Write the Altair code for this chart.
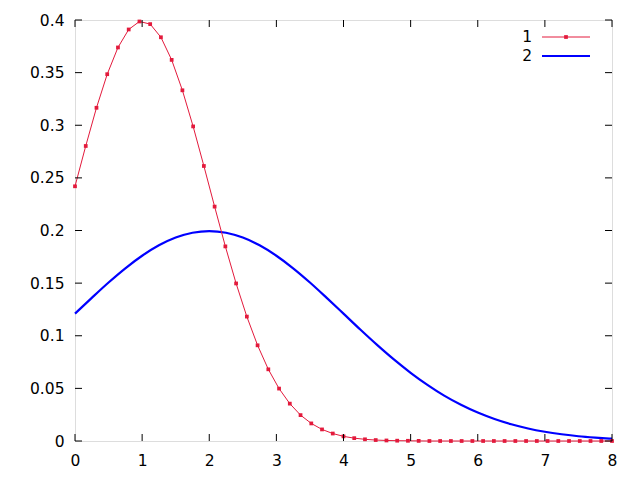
import altair as alt
import pandas as pd

# Series 1: sampled points (step 0.16)
x1 = [round(i * 0.16, 2) for i in range(51)]
y1 = [0.2420, 0.2803, 0.3166, 0.3485, 0.3739, 0.3910, 0.3986, 0.3961, 0.3836, 0.3621,
      0.3332, 0.2989, 0.2613, 0.2227, 0.1849, 0.1497, 0.1182, 0.0909, 0.0681, 0.0498,
      0.0355, 0.0246, 0.0167, 0.0110, 0.0071, 0.0044, 0.0027, 0.0016, 0.0009, 0.0005,
      0.0003, 0.0002, 0.0001, 0.0000, 0.0000, 0.0000, 0.0000, 0.0000, 0.0000, 0.0000,
      0.0000, 0.0000, 0.0000, 0.0000, 0.0000, 0.0000, 0.0000, 0.0000, 0.0000, 0.0000,
      0.0000]

# Series 2: smooth curve (step 0.25)
x2 = [i * 0.25 for i in range(33)]
y2 = [0.1210, 0.1360, 0.1506, 0.1641, 0.1760, 0.1859, 0.1933, 0.1979, 0.1995, 0.1979,
      0.1933, 0.1859, 0.1760, 0.1641, 0.1506, 0.1360, 0.1210, 0.1059, 0.0913, 0.0775,
      0.0648, 0.0533, 0.0431, 0.0344, 0.0270, 0.0209, 0.0159, 0.0119, 0.0088, 0.0064,
      0.0045, 0.0032, 0.0022]

x_ticks = [0, 1, 2, 3, 4, 5, 6, 7, 8]
y_ticks = [0, 0.05, 0.1, 0.15, 0.2, 0.25, 0.3, 0.35, 0.4]
legend_labels = ["1", "2"]

RED = "#e31a3c"
BLUE = "#0000ff"
W, H = 537, 421
TL = 7
FS = 15.5

d1 = pd.DataFrame({"x": x1, "y": y1})
d2 = pd.DataFrame({"x": x2, "y": y2})
dxt = pd.DataFrame({"v": x_ticks})
dyt = pd.DataFrame({"v": y_ticks})

xs = alt.Scale(domain=[0, 8], nice=False, zero=False)
ys = alt.Scale(domain=[0, 0.4], nice=False, zero=False)

xaxis = alt.Axis(values=x_ticks, ticks=False, domain=False, grid=False, labelFont="DejaVu Sans",
                 labelFontSize=FS, labelColor="black", labelPadding=12, title=None, labelFlush=False,
                 format="d")
yaxis = alt.Axis(values=y_ticks, ticks=False, domain=False, grid=False, labelFont="DejaVu Sans",
                 labelFontSize=FS, labelColor="black", labelPadding=11, title=None, labelFlush=False,
                 format="~g")

line2 = alt.Chart(d2).mark_line(color=BLUE, strokeWidth=2.2, interpolate="monotone").encode(
    x=alt.X("x:Q", scale=xs, axis=xaxis),
    y=alt.Y("y:Q", scale=ys, axis=yaxis),
)
line1 = alt.Chart(d1).mark_line(color=RED, strokeWidth=1).encode(
    x=alt.X("x:Q", scale=xs), y=alt.Y("y:Q", scale=ys))
pts1 = alt.Chart(d1).mark_point(color=RED, shape="square", filled=True, size=14, opacity=1).encode(
    x=alt.X("x:Q", scale=xs), y=alt.Y("y:Q", scale=ys))

tb = alt.Chart(dxt).mark_rule(color="black", strokeWidth=1).encode(
    x=alt.X("v:Q", scale=xs), y=alt.value(H), y2=alt.value(H - TL))
tt = alt.Chart(dxt).mark_rule(color="black", strokeWidth=1).encode(
    x=alt.X("v:Q", scale=xs), y=alt.value(0), y2=alt.value(TL))
tlft = alt.Chart(dyt).mark_rule(color="black", strokeWidth=1).encode(
    y=alt.Y("v:Q", scale=ys), x=alt.value(0), x2=alt.value(TL))
trt = alt.Chart(dyt).mark_rule(color="black", strokeWidth=1).encode(
    y=alt.Y("v:Q", scale=ys), x=alt.value(W), x2=alt.value(W - TL))

# Legend
leg = pd.DataFrame({"label": legend_labels})
lt1 = alt.Chart(leg.iloc[[0]]).mark_text(align="right", baseline="middle", font="DejaVu Sans",
                                          fontSize=FS, color="black").encode(
    text="label:N", x=alt.value(457), y=alt.value(17))
lt2 = alt.Chart(leg.iloc[[1]]).mark_text(align="right", baseline="middle", font="DejaVu Sans",
                                          fontSize=FS, color="black").encode(
    text="label:N", x=alt.value(457), y=alt.value(36))
ll1 = alt.Chart(leg.iloc[[0]]).mark_rule(color=RED, strokeWidth=1).encode(
    x=alt.value(467), x2=alt.value(515), y=alt.value(17))
lp1 = alt.Chart(leg.iloc[[0]]).mark_point(color=RED, shape="square", filled=True, size=14, opacity=1).encode(
    x=alt.value(491), y=alt.value(17))
ll2 = alt.Chart(leg.iloc[[1]]).mark_rule(color=BLUE, strokeWidth=2.2).encode(
    x=alt.value(467), x2=alt.value(515), y=alt.value(36))

chart = alt.layer(line2, line1, pts1, tb, tt, tlft, trt, lt1, lt2, ll1, lp1, ll2).properties(
    width=W, height=H,
    autosize=alt.AutoSizeParams(type="none"),
    padding={"left": 67, "top": 12, "right": 20, "bottom": 30},
).configure_view(stroke="black", strokeWidth=1).configure(background="white")

chart.save("out.html", embed_options={"renderer": "svg", "actions": False})
